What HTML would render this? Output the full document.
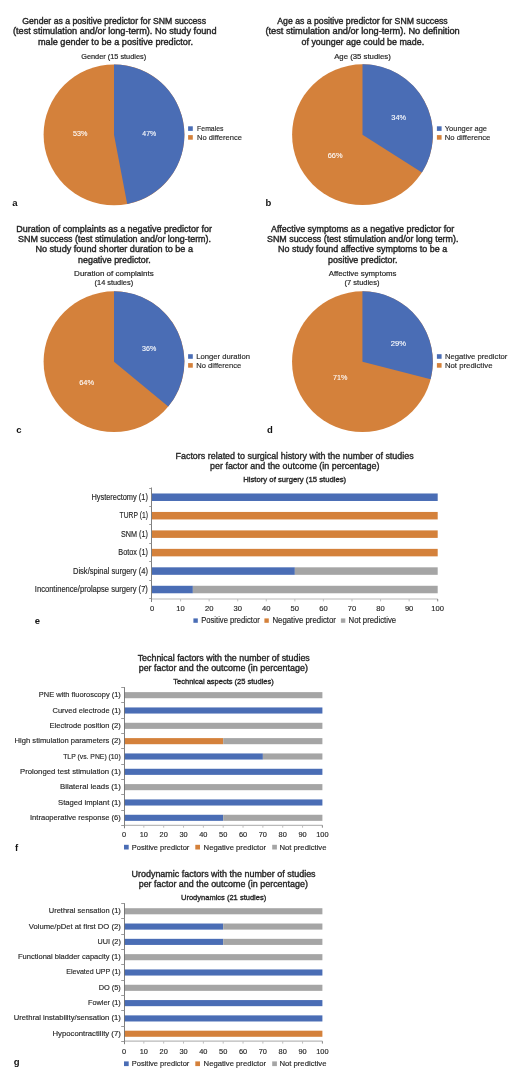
<!DOCTYPE html>
<html><head><meta charset="utf-8"><title>Figure</title>
<style>
html,body{margin:0;padding:0;background:#fff;}
body{width:520px;height:1074px;overflow:hidden;}
svg{display:block;font-family:"Liberation Sans",sans-serif;will-change:transform;filter:blur(0.3px);}
</style></head><body>
<svg width="520" height="1074" viewBox="0 0 520 1074">
<rect width="520" height="1074" fill="#fff"/>
<text x="22.3" y="24.2" font-size="9.1" fill="#262626" stroke="#262626" stroke-width="0.4" textLength="183.7" lengthAdjust="spacingAndGlyphs">Gender as a positive predictor for SNM success</text>
<text x="13.0" y="34.3" font-size="9.1" fill="#262626" stroke="#262626" stroke-width="0.4" textLength="203.5" lengthAdjust="spacingAndGlyphs">(test stimulation and/or long-term). No study found</text>
<text x="38.0" y="44.5" font-size="9.1" fill="#262626" stroke="#262626" stroke-width="0.4" textLength="155.0" lengthAdjust="spacingAndGlyphs">male gender to be a positive predictor.</text>
<text x="81.2" y="58.5" font-size="8.0" fill="#262626" stroke="#262626" stroke-width="0.2" textLength="64.9" lengthAdjust="spacingAndGlyphs">Gender (15 studies)</text>
<circle cx="114.0" cy="134.85" r="70.4" fill="#d4813b"/>
<path d="M114.0,134.85 L114.0,64.44999999999999 A70.4,70.4 0 0 1 127.19,204.00 Z" fill="#4a6db5"/>
<text x="72.9" y="136.3" font-size="7.6" fill="#fff" stroke="#fff" stroke-width="0.1" textLength="14.4" lengthAdjust="spacingAndGlyphs">53%</text>
<text x="142.3" y="136.3" font-size="7.6" fill="#fff" stroke="#fff" stroke-width="0.1" textLength="13.9" lengthAdjust="spacingAndGlyphs">47%</text>
<rect x="188.10" y="126.30" width="4.70" height="4.60" fill="#4a6db5"/>
<rect x="188.10" y="135.10" width="4.70" height="4.60" fill="#d4813b"/>
<text x="197.1" y="131.2" font-size="8.1" fill="#262626" stroke="#262626" stroke-width="0.15" textLength="26.4" lengthAdjust="spacingAndGlyphs">Females</text>
<text x="197.1" y="140.1" font-size="8.1" fill="#262626" stroke="#262626" stroke-width="0.15" textLength="44.8" lengthAdjust="spacingAndGlyphs">No difference</text>
<text x="12.3" y="205.8" font-size="9.5" font-weight="bold" fill="#111">a</text>
<text x="277.3" y="24.2" font-size="9.1" fill="#262626" stroke="#262626" stroke-width="0.4" textLength="170.4" lengthAdjust="spacingAndGlyphs">Age as a positive predictor for SNM success</text>
<text x="265.4" y="34.4" font-size="9.1" fill="#262626" stroke="#262626" stroke-width="0.4" textLength="194.3" lengthAdjust="spacingAndGlyphs">(test stimulation and/or long-term). No definition</text>
<text x="301.5" y="44.5" font-size="9.1" fill="#262626" stroke="#262626" stroke-width="0.4" textLength="122.7" lengthAdjust="spacingAndGlyphs">of younger age could be made.</text>
<text x="334.2" y="58.5" font-size="8.0" fill="#262626" stroke="#262626" stroke-width="0.2" textLength="56.6" lengthAdjust="spacingAndGlyphs">Age (35 studies)</text>
<circle cx="362.5" cy="134.7" r="70.4" fill="#d4813b"/>
<path d="M362.5,134.7 L362.5,64.29999999999998 A70.4,70.4 0 0 1 421.94,172.42 Z" fill="#4a6db5"/>
<text x="391.3" y="120.2" font-size="7.6" fill="#fff" stroke="#fff" stroke-width="0.1" textLength="14.7" lengthAdjust="spacingAndGlyphs">34%</text>
<text x="327.7" y="158.0" font-size="7.6" fill="#fff" stroke="#fff" stroke-width="0.1" textLength="14.8" lengthAdjust="spacingAndGlyphs">66%</text>
<rect x="436.90" y="126.30" width="4.70" height="4.60" fill="#4a6db5"/>
<rect x="436.90" y="135.10" width="4.70" height="4.60" fill="#d4813b"/>
<text x="444.8" y="130.8" font-size="8.1" fill="#262626" stroke="#262626" stroke-width="0.15" textLength="42.2" lengthAdjust="spacingAndGlyphs">Younger age</text>
<text x="444.8" y="139.7" font-size="8.1" fill="#262626" stroke="#262626" stroke-width="0.15" textLength="45.6" lengthAdjust="spacingAndGlyphs">No difference</text>
<text x="265.4" y="205.8" font-size="9.5" font-weight="bold" fill="#111">b</text>
<text x="16.3" y="231.9" font-size="9.1" fill="#262626" stroke="#262626" stroke-width="0.4" textLength="195.7" lengthAdjust="spacingAndGlyphs">Duration of complaints as a negative predictor for</text>
<text x="18.0" y="242.1" font-size="9.1" fill="#262626" stroke="#262626" stroke-width="0.4" textLength="193.0" lengthAdjust="spacingAndGlyphs">SNM success (test stimulation and/or long-term).</text>
<text x="35.4" y="252.3" font-size="9.1" fill="#262626" stroke="#262626" stroke-width="0.4" textLength="157.6" lengthAdjust="spacingAndGlyphs">No study found shorter duration to be a</text>
<text x="78.1" y="262.6" font-size="9.1" fill="#262626" stroke="#262626" stroke-width="0.4" textLength="72.6" lengthAdjust="spacingAndGlyphs">negative predictor.</text>
<text x="74.1" y="275.7" font-size="8.0" fill="#262626" stroke="#262626" stroke-width="0.2" textLength="79.7" lengthAdjust="spacingAndGlyphs">Duration of complaints</text>
<text x="94.6" y="284.9" font-size="8.0" fill="#262626" stroke="#262626" stroke-width="0.2" textLength="38.5" lengthAdjust="spacingAndGlyphs">(14 studies)</text>
<circle cx="114.0" cy="361.7" r="70.4" fill="#d4813b"/>
<path d="M114.0,361.7 L114.0,291.29999999999995 A70.4,70.4 0 0 1 168.24,406.57 Z" fill="#4a6db5"/>
<text x="142.0" y="350.8" font-size="7.6" fill="#fff" stroke="#fff" stroke-width="0.1" textLength="14.2" lengthAdjust="spacingAndGlyphs">36%</text>
<text x="79.2" y="384.9" font-size="7.6" fill="#fff" stroke="#fff" stroke-width="0.1" textLength="14.9" lengthAdjust="spacingAndGlyphs">64%</text>
<rect x="188.10" y="354.20" width="4.70" height="4.60" fill="#4a6db5"/>
<rect x="188.10" y="363.10" width="4.70" height="4.60" fill="#d4813b"/>
<text x="196.3" y="358.8" font-size="8.1" fill="#262626" stroke="#262626" stroke-width="0.15" textLength="53.7" lengthAdjust="spacingAndGlyphs">Longer duration</text>
<text x="196.3" y="367.8" font-size="8.1" fill="#262626" stroke="#262626" stroke-width="0.15" textLength="44.9" lengthAdjust="spacingAndGlyphs">No difference</text>
<text x="16.2" y="433.1" font-size="9.5" font-weight="bold" fill="#111">c</text>
<text x="271.0" y="231.9" font-size="9.1" fill="#262626" stroke="#262626" stroke-width="0.4" textLength="183.2" lengthAdjust="spacingAndGlyphs">Affective symptoms as a negative predictor for</text>
<text x="267.0" y="242.1" font-size="9.1" fill="#262626" stroke="#262626" stroke-width="0.4" textLength="191.4" lengthAdjust="spacingAndGlyphs">SNM success (test stimulation and/or long term).</text>
<text x="278.0" y="252.3" font-size="9.1" fill="#262626" stroke="#262626" stroke-width="0.4" textLength="169.2" lengthAdjust="spacingAndGlyphs">No study found affective symptoms to be a</text>
<text x="328.1" y="262.6" font-size="9.1" fill="#262626" stroke="#262626" stroke-width="0.4" textLength="69.4" lengthAdjust="spacingAndGlyphs">positive predictor.</text>
<text x="328.8" y="275.7" font-size="8.0" fill="#262626" stroke="#262626" stroke-width="0.2" textLength="67.6" lengthAdjust="spacingAndGlyphs">Affective symptoms</text>
<text x="344.6" y="284.9" font-size="8.0" fill="#262626" stroke="#262626" stroke-width="0.2" textLength="34.9" lengthAdjust="spacingAndGlyphs">(7 studies)</text>
<circle cx="362.45" cy="361.7" r="70.4" fill="#d4813b"/>
<path d="M362.45,361.7 L362.45,291.29999999999995 A70.4,70.4 0 0 1 430.64,379.21 Z" fill="#4a6db5"/>
<text x="390.8" y="346.2" font-size="7.6" fill="#fff" stroke="#fff" stroke-width="0.1" textLength="15.3" lengthAdjust="spacingAndGlyphs">29%</text>
<text x="332.9" y="379.6" font-size="7.6" fill="#fff" stroke="#fff" stroke-width="0.1" textLength="14.4" lengthAdjust="spacingAndGlyphs">71%</text>
<rect x="436.90" y="354.20" width="4.70" height="4.60" fill="#4a6db5"/>
<rect x="436.90" y="363.10" width="4.70" height="4.60" fill="#d4813b"/>
<text x="444.9" y="359.0" font-size="8.1" fill="#262626" stroke="#262626" stroke-width="0.15" textLength="62.5" lengthAdjust="spacingAndGlyphs">Negative predictor</text>
<text x="444.9" y="368.0" font-size="8.1" fill="#262626" stroke="#262626" stroke-width="0.15" textLength="47.6" lengthAdjust="spacingAndGlyphs">Not predictive</text>
<text x="266.9" y="432.7" font-size="9.5" font-weight="bold" fill="#111">d</text>
<text x="175.5" y="458.5" font-size="9.0" fill="#262626" stroke="#262626" stroke-width="0.35" textLength="238.2" lengthAdjust="spacingAndGlyphs">Factors related to surgical history with the number of studies</text>
<text x="210.0" y="468.5" font-size="9.0" fill="#262626" stroke="#262626" stroke-width="0.35" textLength="169.5" lengthAdjust="spacingAndGlyphs">per factor and the outcome (in percentage)</text>
<text x="243.2" y="481.8" font-size="8.0" fill="#262626" stroke="#262626" stroke-width="0.35" textLength="103.0" lengthAdjust="spacingAndGlyphs">History of surgery (15 studies)</text>
<rect x="152.00" y="493.48" width="285.70" height="7.50" fill="#4a6db5"/>
<text x="91.4" y="499.6" font-size="8.2" fill="#262626" stroke="#262626" stroke-width="0.15" textLength="56.5" lengthAdjust="spacingAndGlyphs">Hysterectomy (1)</text>
<rect x="152.00" y="511.94" width="285.70" height="7.50" fill="#d4813b"/>
<text x="119.6" y="518.1" font-size="8.2" fill="#262626" stroke="#262626" stroke-width="0.15" textLength="28.3" lengthAdjust="spacingAndGlyphs">TURP (1)</text>
<rect x="152.00" y="530.40" width="285.70" height="7.50" fill="#d4813b"/>
<text x="121.0" y="536.5" font-size="8.2" fill="#262626" stroke="#262626" stroke-width="0.15" textLength="26.9" lengthAdjust="spacingAndGlyphs">SNM (1)</text>
<rect x="152.00" y="548.86" width="285.70" height="7.50" fill="#d4813b"/>
<text x="118.3" y="555.0" font-size="8.2" fill="#262626" stroke="#262626" stroke-width="0.15" textLength="29.6" lengthAdjust="spacingAndGlyphs">Botox (1)</text>
<rect x="152.00" y="567.32" width="142.85" height="7.50" fill="#4a6db5"/>
<rect x="294.85" y="567.32" width="142.85" height="7.50" fill="#a5a5a5"/>
<text x="73.0" y="573.5" font-size="8.2" fill="#262626" stroke="#262626" stroke-width="0.15" textLength="74.9" lengthAdjust="spacingAndGlyphs">Disk/spinal surgery (4)</text>
<rect x="152.00" y="585.78" width="40.86" height="7.50" fill="#4a6db5"/>
<rect x="192.86" y="585.78" width="244.84" height="7.50" fill="#a5a5a5"/>
<text x="34.8" y="591.9" font-size="8.2" fill="#262626" stroke="#262626" stroke-width="0.15" textLength="113.1" lengthAdjust="spacingAndGlyphs">Incontinence/prolapse surgery (7)</text>
<line x1="152.00" y1="599.00" x2="437.70" y2="599.00" stroke="#b8b8b8" stroke-width="1.2"/>
<line x1="180.57" y1="599.00" x2="180.57" y2="601.40" stroke="#b8b8b8" stroke-width="0.9"/>
<line x1="209.14" y1="599.00" x2="209.14" y2="601.40" stroke="#b8b8b8" stroke-width="0.9"/>
<line x1="237.71" y1="599.00" x2="237.71" y2="601.40" stroke="#b8b8b8" stroke-width="0.9"/>
<line x1="266.28" y1="599.00" x2="266.28" y2="601.40" stroke="#b8b8b8" stroke-width="0.9"/>
<line x1="294.85" y1="599.00" x2="294.85" y2="601.40" stroke="#b8b8b8" stroke-width="0.9"/>
<line x1="323.42" y1="599.00" x2="323.42" y2="601.40" stroke="#b8b8b8" stroke-width="0.9"/>
<line x1="351.99" y1="599.00" x2="351.99" y2="601.40" stroke="#b8b8b8" stroke-width="0.9"/>
<line x1="380.56" y1="599.00" x2="380.56" y2="601.40" stroke="#b8b8b8" stroke-width="0.9"/>
<line x1="409.13" y1="599.00" x2="409.13" y2="601.40" stroke="#b8b8b8" stroke-width="0.9"/>
<line x1="437.70" y1="599.00" x2="437.70" y2="601.40" stroke="#777" stroke-width="0.9"/>
<line x1="151.50" y1="487.50" x2="151.50" y2="602.00" stroke="#707070" stroke-width="0.9"/>
<line x1="149.20" y1="488.50" x2="151.50" y2="488.50" stroke="#909090" stroke-width="0.9"/>
<line x1="149.20" y1="506.50" x2="151.50" y2="506.50" stroke="#909090" stroke-width="0.9"/>
<line x1="149.20" y1="524.50" x2="151.50" y2="524.50" stroke="#909090" stroke-width="0.9"/>
<line x1="149.20" y1="543.50" x2="151.50" y2="543.50" stroke="#909090" stroke-width="0.9"/>
<line x1="149.20" y1="561.50" x2="151.50" y2="561.50" stroke="#909090" stroke-width="0.9"/>
<line x1="149.20" y1="580.50" x2="151.50" y2="580.50" stroke="#909090" stroke-width="0.9"/>
<line x1="149.20" y1="598.50" x2="151.50" y2="598.50" stroke="#909090" stroke-width="0.9"/>
<text x="152.00" y="611.2" font-size="7.6" fill="#262626" stroke="#262626" stroke-width="0.15" text-anchor="middle">0</text>
<text x="180.57" y="611.2" font-size="7.6" fill="#262626" stroke="#262626" stroke-width="0.15" text-anchor="middle">10</text>
<text x="209.14" y="611.2" font-size="7.6" fill="#262626" stroke="#262626" stroke-width="0.15" text-anchor="middle">20</text>
<text x="237.71" y="611.2" font-size="7.6" fill="#262626" stroke="#262626" stroke-width="0.15" text-anchor="middle">30</text>
<text x="266.28" y="611.2" font-size="7.6" fill="#262626" stroke="#262626" stroke-width="0.15" text-anchor="middle">40</text>
<text x="294.85" y="611.2" font-size="7.6" fill="#262626" stroke="#262626" stroke-width="0.15" text-anchor="middle">50</text>
<text x="323.42" y="611.2" font-size="7.6" fill="#262626" stroke="#262626" stroke-width="0.15" text-anchor="middle">60</text>
<text x="351.99" y="611.2" font-size="7.6" fill="#262626" stroke="#262626" stroke-width="0.15" text-anchor="middle">70</text>
<text x="380.56" y="611.2" font-size="7.6" fill="#262626" stroke="#262626" stroke-width="0.15" text-anchor="middle">80</text>
<text x="409.13" y="611.2" font-size="7.6" fill="#262626" stroke="#262626" stroke-width="0.15" text-anchor="middle">90</text>
<text x="437.70" y="611.2" font-size="7.6" fill="#262626" stroke="#262626" stroke-width="0.15" text-anchor="middle">100</text>
<rect x="193.40" y="618.40" width="4.40" height="4.40" fill="#4a6db5"/>
<text x="201.2" y="622.8" font-size="8.2" fill="#262626" stroke="#262626" stroke-width="0.15" textLength="58.6" lengthAdjust="spacingAndGlyphs">Positive predictor</text>
<rect x="264.40" y="618.40" width="4.40" height="4.40" fill="#d4813b"/>
<text x="272.4" y="622.8" font-size="8.2" fill="#262626" stroke="#262626" stroke-width="0.15" textLength="63.6" lengthAdjust="spacingAndGlyphs">Negative predictor</text>
<rect x="340.90" y="618.40" width="4.40" height="4.40" fill="#a5a5a5"/>
<text x="348.6" y="622.8" font-size="8.2" fill="#262626" stroke="#262626" stroke-width="0.15" textLength="47.6" lengthAdjust="spacingAndGlyphs">Not predictive</text>
<text x="34.8" y="624.0" font-size="9.5" font-weight="bold" fill="#111">e</text>
<text x="137.7" y="661.1" font-size="8.6" fill="#262626" stroke="#262626" stroke-width="0.35" textLength="172.1" lengthAdjust="spacingAndGlyphs">Technical factors with the number of studies</text>
<text x="138.7" y="671.1" font-size="8.6" fill="#262626" stroke="#262626" stroke-width="0.35" textLength="169.2" lengthAdjust="spacingAndGlyphs">per factor and the outcome (in percentage)</text>
<text x="173.3" y="684.2" font-size="8.0" fill="#262626" stroke="#262626" stroke-width="0.35" textLength="100.5" lengthAdjust="spacingAndGlyphs">Technical aspects (25 studies)</text>
<rect x="124.00" y="692.12" width="198.40" height="6.10" fill="#a5a5a5"/>
<text x="38.8" y="697.2" font-size="7.9" fill="#262626" stroke="#262626" stroke-width="0.15" textLength="82.0" lengthAdjust="spacingAndGlyphs">PNE with fluoroscopy (1)</text>
<rect x="124.00" y="707.45" width="198.40" height="6.10" fill="#4a6db5"/>
<text x="52.5" y="712.5" font-size="7.9" fill="#262626" stroke="#262626" stroke-width="0.15" textLength="68.3" lengthAdjust="spacingAndGlyphs">Curved electrode (1)</text>
<rect x="124.00" y="722.78" width="198.40" height="6.10" fill="#a5a5a5"/>
<text x="49.5" y="727.8" font-size="7.9" fill="#262626" stroke="#262626" stroke-width="0.15" textLength="71.3" lengthAdjust="spacingAndGlyphs">Electrode position (2)</text>
<rect x="124.00" y="738.11" width="99.20" height="6.10" fill="#d4813b"/>
<rect x="223.20" y="738.11" width="99.20" height="6.10" fill="#a5a5a5"/>
<text x="14.6" y="743.2" font-size="7.9" fill="#262626" stroke="#262626" stroke-width="0.15" textLength="106.2" lengthAdjust="spacingAndGlyphs">High stimulation parameters (2)</text>
<rect x="124.00" y="753.44" width="138.88" height="6.10" fill="#4a6db5"/>
<rect x="262.88" y="753.44" width="59.52" height="6.10" fill="#a5a5a5"/>
<text x="63.2" y="758.5" font-size="7.9" fill="#262626" stroke="#262626" stroke-width="0.15" textLength="57.5" lengthAdjust="spacingAndGlyphs">TLP (vs. PNE) (10)</text>
<rect x="124.00" y="768.77" width="198.40" height="6.10" fill="#4a6db5"/>
<text x="20.0" y="773.8" font-size="7.9" fill="#262626" stroke="#262626" stroke-width="0.15" textLength="100.8" lengthAdjust="spacingAndGlyphs">Prolonged test stimulation (1)</text>
<rect x="124.00" y="784.10" width="198.40" height="6.10" fill="#a5a5a5"/>
<text x="60.0" y="789.1" font-size="7.9" fill="#262626" stroke="#262626" stroke-width="0.15" textLength="60.8" lengthAdjust="spacingAndGlyphs">Bilateral leads (1)</text>
<rect x="124.00" y="799.43" width="198.40" height="6.10" fill="#4a6db5"/>
<text x="58.0" y="804.5" font-size="7.9" fill="#262626" stroke="#262626" stroke-width="0.15" textLength="62.8" lengthAdjust="spacingAndGlyphs">Staged implant (1)</text>
<rect x="124.00" y="814.76" width="99.20" height="6.10" fill="#4a6db5"/>
<rect x="223.20" y="814.76" width="99.20" height="6.10" fill="#a5a5a5"/>
<text x="30.0" y="819.8" font-size="7.9" fill="#262626" stroke="#262626" stroke-width="0.15" textLength="90.8" lengthAdjust="spacingAndGlyphs">Intraoperative response (6)</text>
<line x1="124.00" y1="825.30" x2="322.40" y2="825.30" stroke="#b8b8b8" stroke-width="1.2"/>
<line x1="143.84" y1="825.30" x2="143.84" y2="827.70" stroke="#b8b8b8" stroke-width="0.9"/>
<line x1="163.68" y1="825.30" x2="163.68" y2="827.70" stroke="#b8b8b8" stroke-width="0.9"/>
<line x1="183.52" y1="825.30" x2="183.52" y2="827.70" stroke="#b8b8b8" stroke-width="0.9"/>
<line x1="203.36" y1="825.30" x2="203.36" y2="827.70" stroke="#b8b8b8" stroke-width="0.9"/>
<line x1="223.20" y1="825.30" x2="223.20" y2="827.70" stroke="#b8b8b8" stroke-width="0.9"/>
<line x1="243.04" y1="825.30" x2="243.04" y2="827.70" stroke="#b8b8b8" stroke-width="0.9"/>
<line x1="262.88" y1="825.30" x2="262.88" y2="827.70" stroke="#b8b8b8" stroke-width="0.9"/>
<line x1="282.72" y1="825.30" x2="282.72" y2="827.70" stroke="#b8b8b8" stroke-width="0.9"/>
<line x1="302.56" y1="825.30" x2="302.56" y2="827.70" stroke="#b8b8b8" stroke-width="0.9"/>
<line x1="322.40" y1="825.30" x2="322.40" y2="827.70" stroke="#777" stroke-width="0.9"/>
<line x1="124.50" y1="687.00" x2="124.50" y2="828.30" stroke="#707070" stroke-width="0.9"/>
<line x1="121.20" y1="687.50" x2="124.50" y2="687.50" stroke="#909090" stroke-width="0.9"/>
<line x1="121.20" y1="702.50" x2="124.50" y2="702.50" stroke="#909090" stroke-width="0.9"/>
<line x1="121.20" y1="718.50" x2="124.50" y2="718.50" stroke="#909090" stroke-width="0.9"/>
<line x1="121.20" y1="733.50" x2="124.50" y2="733.50" stroke="#909090" stroke-width="0.9"/>
<line x1="121.20" y1="748.50" x2="124.50" y2="748.50" stroke="#909090" stroke-width="0.9"/>
<line x1="121.20" y1="764.50" x2="124.50" y2="764.50" stroke="#909090" stroke-width="0.9"/>
<line x1="121.20" y1="779.50" x2="124.50" y2="779.50" stroke="#909090" stroke-width="0.9"/>
<line x1="121.20" y1="794.50" x2="124.50" y2="794.50" stroke="#909090" stroke-width="0.9"/>
<line x1="121.20" y1="810.50" x2="124.50" y2="810.50" stroke="#909090" stroke-width="0.9"/>
<line x1="121.20" y1="825.50" x2="124.50" y2="825.50" stroke="#909090" stroke-width="0.9"/>
<text x="124.00" y="837.1" font-size="7.4" fill="#262626" stroke="#262626" stroke-width="0.15" text-anchor="middle">0</text>
<text x="143.84" y="837.1" font-size="7.4" fill="#262626" stroke="#262626" stroke-width="0.15" text-anchor="middle">10</text>
<text x="163.68" y="837.1" font-size="7.4" fill="#262626" stroke="#262626" stroke-width="0.15" text-anchor="middle">20</text>
<text x="183.52" y="837.1" font-size="7.4" fill="#262626" stroke="#262626" stroke-width="0.15" text-anchor="middle">30</text>
<text x="203.36" y="837.1" font-size="7.4" fill="#262626" stroke="#262626" stroke-width="0.15" text-anchor="middle">40</text>
<text x="223.20" y="837.1" font-size="7.4" fill="#262626" stroke="#262626" stroke-width="0.15" text-anchor="middle">50</text>
<text x="243.04" y="837.1" font-size="7.4" fill="#262626" stroke="#262626" stroke-width="0.15" text-anchor="middle">60</text>
<text x="262.88" y="837.1" font-size="7.4" fill="#262626" stroke="#262626" stroke-width="0.15" text-anchor="middle">70</text>
<text x="282.72" y="837.1" font-size="7.4" fill="#262626" stroke="#262626" stroke-width="0.15" text-anchor="middle">80</text>
<text x="302.56" y="837.1" font-size="7.4" fill="#262626" stroke="#262626" stroke-width="0.15" text-anchor="middle">90</text>
<text x="322.40" y="837.1" font-size="7.4" fill="#262626" stroke="#262626" stroke-width="0.15" text-anchor="middle">100</text>
<rect x="124.00" y="844.80" width="4.70" height="4.70" fill="#4a6db5"/>
<text x="131.7" y="849.8" font-size="7.9" fill="#262626" stroke="#262626" stroke-width="0.15" textLength="57.7" lengthAdjust="spacingAndGlyphs">Positive predictor</text>
<rect x="195.30" y="844.80" width="4.70" height="4.70" fill="#d4813b"/>
<text x="203.6" y="849.8" font-size="7.9" fill="#262626" stroke="#262626" stroke-width="0.15" textLength="62.4" lengthAdjust="spacingAndGlyphs">Negative predictor</text>
<rect x="272.20" y="844.80" width="4.70" height="4.70" fill="#a5a5a5"/>
<text x="279.4" y="849.8" font-size="7.9" fill="#262626" stroke="#262626" stroke-width="0.15" textLength="47.1" lengthAdjust="spacingAndGlyphs">Not predictive</text>
<text x="15.0" y="851.2" font-size="9.5" font-weight="bold" fill="#111">f</text>
<text x="131.5" y="876.9" font-size="8.6" fill="#262626" stroke="#262626" stroke-width="0.35" textLength="184.1" lengthAdjust="spacingAndGlyphs">Urodynamic factors with the number of studies</text>
<text x="138.7" y="887.1" font-size="8.6" fill="#262626" stroke="#262626" stroke-width="0.35" textLength="169.2" lengthAdjust="spacingAndGlyphs">per factor and the outcome (in percentage)</text>
<text x="181.0" y="900.2" font-size="8.0" fill="#262626" stroke="#262626" stroke-width="0.35" textLength="85.2" lengthAdjust="spacingAndGlyphs">Urodynamics (21 studies)</text>
<rect x="124.00" y="908.21" width="198.40" height="6.10" fill="#a5a5a5"/>
<text x="48.8" y="913.2" font-size="7.9" fill="#262626" stroke="#262626" stroke-width="0.15" textLength="72.0" lengthAdjust="spacingAndGlyphs">Urethral sensation (1)</text>
<rect x="124.00" y="923.52" width="99.20" height="6.10" fill="#4a6db5"/>
<rect x="223.20" y="923.52" width="99.20" height="6.10" fill="#a5a5a5"/>
<text x="28.8" y="928.5" font-size="7.9" fill="#262626" stroke="#262626" stroke-width="0.15" textLength="92.0" lengthAdjust="spacingAndGlyphs">Volume/pDet at first DO (2)</text>
<rect x="124.00" y="938.83" width="99.20" height="6.10" fill="#4a6db5"/>
<rect x="223.20" y="938.83" width="99.20" height="6.10" fill="#a5a5a5"/>
<text x="97.5" y="943.8" font-size="7.9" fill="#262626" stroke="#262626" stroke-width="0.15" textLength="23.3" lengthAdjust="spacingAndGlyphs">UUI (2)</text>
<rect x="124.00" y="954.14" width="198.40" height="6.10" fill="#a5a5a5"/>
<text x="18.0" y="959.1" font-size="7.9" fill="#262626" stroke="#262626" stroke-width="0.15" textLength="102.8" lengthAdjust="spacingAndGlyphs">Functional bladder capacity (1)</text>
<rect x="124.00" y="969.45" width="198.40" height="6.10" fill="#4a6db5"/>
<text x="66.2" y="974.4" font-size="7.9" fill="#262626" stroke="#262626" stroke-width="0.15" textLength="54.5" lengthAdjust="spacingAndGlyphs">Elevated UPP (1)</text>
<rect x="124.00" y="984.76" width="198.40" height="6.10" fill="#a5a5a5"/>
<text x="98.8" y="989.7" font-size="7.9" fill="#262626" stroke="#262626" stroke-width="0.15" textLength="22.0" lengthAdjust="spacingAndGlyphs">DO (5)</text>
<rect x="124.00" y="1000.07" width="198.40" height="6.10" fill="#4a6db5"/>
<text x="88.0" y="1005.0" font-size="7.9" fill="#262626" stroke="#262626" stroke-width="0.15" textLength="32.8" lengthAdjust="spacingAndGlyphs">Fowler (1)</text>
<rect x="124.00" y="1015.38" width="198.40" height="6.10" fill="#4a6db5"/>
<text x="13.8" y="1020.3" font-size="7.9" fill="#262626" stroke="#262626" stroke-width="0.15" textLength="107.0" lengthAdjust="spacingAndGlyphs">Urethral instability/sensation (1)</text>
<rect x="124.00" y="1030.69" width="198.40" height="6.10" fill="#d4813b"/>
<text x="52.5" y="1035.6" font-size="7.9" fill="#262626" stroke="#262626" stroke-width="0.15" textLength="68.3" lengthAdjust="spacingAndGlyphs">Hypocontractility (7)</text>
<line x1="124.00" y1="1041.20" x2="322.40" y2="1041.20" stroke="#b8b8b8" stroke-width="1.2"/>
<line x1="143.84" y1="1041.20" x2="143.84" y2="1043.60" stroke="#b8b8b8" stroke-width="0.9"/>
<line x1="163.68" y1="1041.20" x2="163.68" y2="1043.60" stroke="#b8b8b8" stroke-width="0.9"/>
<line x1="183.52" y1="1041.20" x2="183.52" y2="1043.60" stroke="#b8b8b8" stroke-width="0.9"/>
<line x1="203.36" y1="1041.20" x2="203.36" y2="1043.60" stroke="#b8b8b8" stroke-width="0.9"/>
<line x1="223.20" y1="1041.20" x2="223.20" y2="1043.60" stroke="#b8b8b8" stroke-width="0.9"/>
<line x1="243.04" y1="1041.20" x2="243.04" y2="1043.60" stroke="#b8b8b8" stroke-width="0.9"/>
<line x1="262.88" y1="1041.20" x2="262.88" y2="1043.60" stroke="#b8b8b8" stroke-width="0.9"/>
<line x1="282.72" y1="1041.20" x2="282.72" y2="1043.60" stroke="#b8b8b8" stroke-width="0.9"/>
<line x1="302.56" y1="1041.20" x2="302.56" y2="1043.60" stroke="#b8b8b8" stroke-width="0.9"/>
<line x1="322.40" y1="1041.20" x2="322.40" y2="1043.60" stroke="#777" stroke-width="0.9"/>
<line x1="124.50" y1="903.10" x2="124.50" y2="1044.20" stroke="#707070" stroke-width="0.9"/>
<line x1="121.20" y1="903.50" x2="124.50" y2="903.50" stroke="#909090" stroke-width="0.9"/>
<line x1="121.20" y1="918.50" x2="124.50" y2="918.50" stroke="#909090" stroke-width="0.9"/>
<line x1="121.20" y1="934.50" x2="124.50" y2="934.50" stroke="#909090" stroke-width="0.9"/>
<line x1="121.20" y1="949.50" x2="124.50" y2="949.50" stroke="#909090" stroke-width="0.9"/>
<line x1="121.20" y1="964.50" x2="124.50" y2="964.50" stroke="#909090" stroke-width="0.9"/>
<line x1="121.20" y1="980.50" x2="124.50" y2="980.50" stroke="#909090" stroke-width="0.9"/>
<line x1="121.20" y1="995.50" x2="124.50" y2="995.50" stroke="#909090" stroke-width="0.9"/>
<line x1="121.20" y1="1010.50" x2="124.50" y2="1010.50" stroke="#909090" stroke-width="0.9"/>
<line x1="121.20" y1="1026.50" x2="124.50" y2="1026.50" stroke="#909090" stroke-width="0.9"/>
<line x1="121.20" y1="1041.50" x2="124.50" y2="1041.50" stroke="#909090" stroke-width="0.9"/>
<text x="124.00" y="1053.8" font-size="7.4" fill="#262626" stroke="#262626" stroke-width="0.15" text-anchor="middle">0</text>
<text x="143.84" y="1053.8" font-size="7.4" fill="#262626" stroke="#262626" stroke-width="0.15" text-anchor="middle">10</text>
<text x="163.68" y="1053.8" font-size="7.4" fill="#262626" stroke="#262626" stroke-width="0.15" text-anchor="middle">20</text>
<text x="183.52" y="1053.8" font-size="7.4" fill="#262626" stroke="#262626" stroke-width="0.15" text-anchor="middle">30</text>
<text x="203.36" y="1053.8" font-size="7.4" fill="#262626" stroke="#262626" stroke-width="0.15" text-anchor="middle">40</text>
<text x="223.20" y="1053.8" font-size="7.4" fill="#262626" stroke="#262626" stroke-width="0.15" text-anchor="middle">50</text>
<text x="243.04" y="1053.8" font-size="7.4" fill="#262626" stroke="#262626" stroke-width="0.15" text-anchor="middle">60</text>
<text x="262.88" y="1053.8" font-size="7.4" fill="#262626" stroke="#262626" stroke-width="0.15" text-anchor="middle">70</text>
<text x="282.72" y="1053.8" font-size="7.4" fill="#262626" stroke="#262626" stroke-width="0.15" text-anchor="middle">80</text>
<text x="302.56" y="1053.8" font-size="7.4" fill="#262626" stroke="#262626" stroke-width="0.15" text-anchor="middle">90</text>
<text x="322.40" y="1053.8" font-size="7.4" fill="#262626" stroke="#262626" stroke-width="0.15" text-anchor="middle">100</text>
<rect x="124.00" y="1061.40" width="4.70" height="4.70" fill="#4a6db5"/>
<text x="131.7" y="1066.2" font-size="7.9" fill="#262626" stroke="#262626" stroke-width="0.15" textLength="57.7" lengthAdjust="spacingAndGlyphs">Positive predictor</text>
<rect x="195.30" y="1061.40" width="4.70" height="4.70" fill="#d4813b"/>
<text x="203.6" y="1066.2" font-size="7.9" fill="#262626" stroke="#262626" stroke-width="0.15" textLength="62.4" lengthAdjust="spacingAndGlyphs">Negative predictor</text>
<rect x="272.20" y="1061.40" width="4.70" height="4.70" fill="#a5a5a5"/>
<text x="279.4" y="1066.2" font-size="7.9" fill="#262626" stroke="#262626" stroke-width="0.15" textLength="47.1" lengthAdjust="spacingAndGlyphs">Not predictive</text>
<text x="13.8" y="1064.8" font-size="9.5" font-weight="bold" fill="#111">g</text>
</svg>
</body></html>
